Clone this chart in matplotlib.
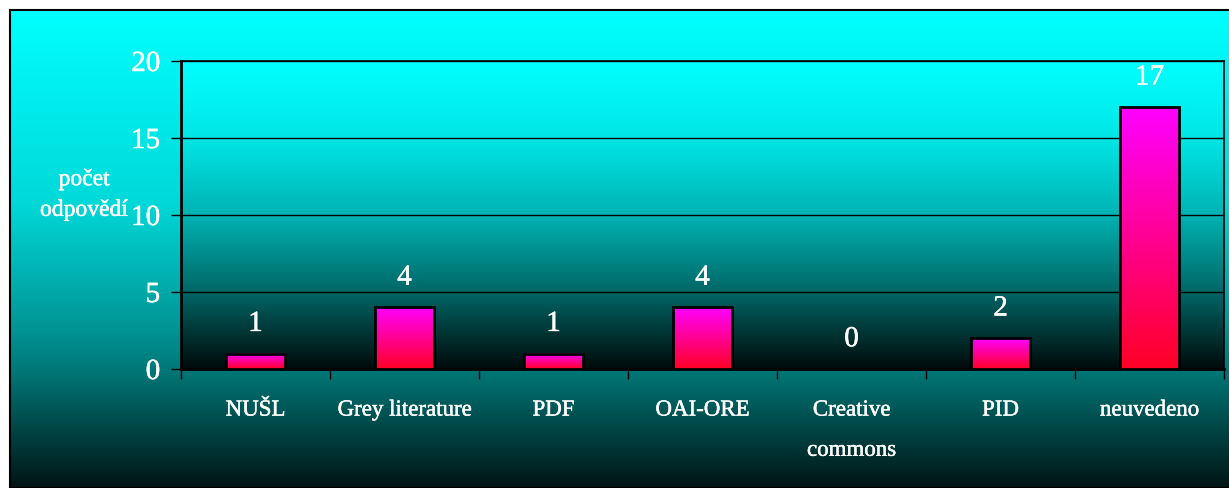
"""Bar chart: počet odpovědí by category, with gradient fills."""
import numpy as np
import matplotlib
matplotlib.use('Agg')
import matplotlib.pyplot as plt
import matplotlib.patheffects as pe
from matplotlib.colors import LinearSegmentedColormap

categories = ['NUŠL', 'Grey literature', 'PDF', 'OAI-ORE',
              'Creative\ncommons', 'PID', 'neuvedeno']
values = [1, 4, 1, 4, 0, 2, 17]
y_ticks = [0, 5, 10, 15, 20]
y_label = 'počet\nodpovědí'

plt.rcParams['font.family'] = ['Liberation Serif', 'DejaVu Serif']

# slight white outline to make the serif text look heavier
thick = [pe.withStroke(linewidth=0.35, foreground='white')]

W, H = 1229, 489
fig = plt.figure(figsize=(W / 100, H / 100), dpi=100)
fig.patch.set_facecolor('white')

# outer background panel (teal gradient, top cyan -> dark)
bg_cmap = LinearSegmentedColormap.from_list('bg', [
    (0.0, (0, 1, 1)),
    (0.4, (0, 0.85, 0.85)),
    (0.67, (0, 0.58, 0.58)),
    (0.76, (0, 0.46, 0.46)),
    (1.0, (0, 0.08, 0.08)),
])
ax_bg = fig.add_axes([10 / W, 0, 1, (H - 11) / H])
ax_bg.imshow(np.linspace(0, 1, 256).reshape(-1, 1), cmap=bg_cmap,
             aspect='auto', extent=[0, 1, 0, 1])
ax_bg.set_xticks([])
ax_bg.set_yticks([])
for s in ax_bg.spines.values():
    s.set_color('black')
    s.set_linewidth(1.5)

# plot area
ax = fig.add_axes([181 / W, (H - 370) / H, (1224 - 181) / W, (370 - 62) / H])
ax.set_zorder(2)
pa_cmap = LinearSegmentedColormap.from_list('pa', [
    (0.0, (0, 1, 1)),
    (0.25, (0, 0.9, 0.9)),
    (0.5, (0, 0.7, 0.7)),
    (0.75, (0, 0.4, 0.4)),
    (1.0, (0, 0.04, 0.04)),
])
ax.imshow(np.linspace(0, 1, 256).reshape(-1, 1), cmap=pa_cmap, aspect='auto',
          extent=[0, 1, 0, 1], transform=ax.transAxes, zorder=0)

bar_cmap = LinearSegmentedColormap.from_list('bar', [(1, 0, 1), (1, 0, 0.15)])
x = np.arange(len(categories))
width = 0.4
for xi, v in zip(x, values):
    if v > 0:
        ax.imshow(np.linspace(0, 1, 128).reshape(-1, 1), cmap=bar_cmap,
                  aspect='auto', extent=[xi - width / 2, xi + width / 2, 0, v],
                  zorder=3)
        ax.bar(xi, v, width=width, facecolor='none', edgecolor='black',
               linewidth=2, zorder=4)
    ax.annotate(str(v), (xi, v), xytext=(0, 12), textcoords='offset points',
                ha='center', va='bottom', color='white', fontsize=21,
                path_effects=thick)

ax.set_xlim(-0.5, len(categories) - 0.5)
ax.set_ylim(0, 20)
ax.set_yticks(y_ticks)
ax.set_yticklabels([str(t) for t in y_ticks], fontsize=21, color='white',
                   path_effects=thick)
ax.yaxis.grid(True, color='black', linewidth=1)
ax.set_axisbelow(False)
for line in ax.get_ygridlines():
    line.set_zorder(1)

ax.set_xticks(x)
ax.set_xticklabels(categories, fontsize=16.5, color='white', va='top',
                   linespacing=2.2, path_effects=thick)
ax.set_xticks(np.arange(len(categories) + 1) - 0.5, minor=True)
ax.tick_params(axis='x', which='major', length=0, pad=22)
ax.tick_params(axis='x', which='minor', length=7, width=1, color='black',
               direction='out')
ax.tick_params(axis='y', length=7, width=1, color='black', direction='out',
               pad=8)

for s in ax.spines.values():
    s.set_color('black')
    s.set_linewidth(1.2)
ax.spines['left'].set_linewidth(2)
ax.spines['bottom'].set_linewidth(2)

fig.text(84 / W, 1 - 196 / H, y_label, ha='center', va='center',
         color='white', fontsize=17, linespacing=1.6, zorder=5,
         path_effects=thick)

fig.savefig('out.png', dpi=100)
